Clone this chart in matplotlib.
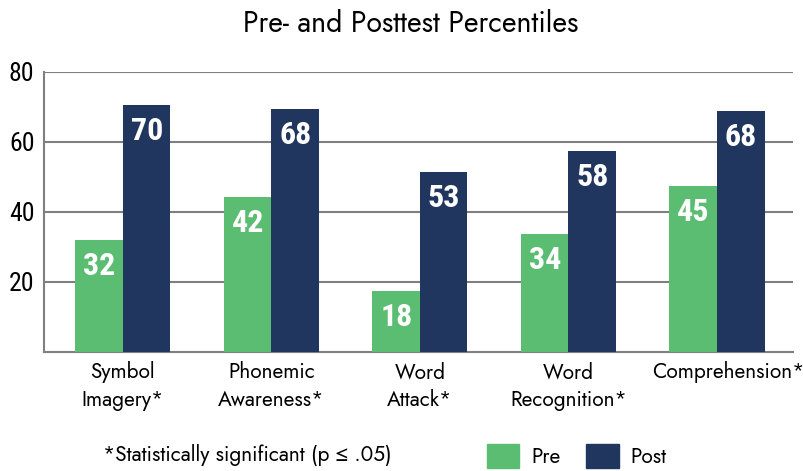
import matplotlib.pyplot as plt
import numpy as np
from matplotlib.patches import Patch
from matplotlib.transforms import ScaledTranslation

categories = ['Symbol\nImagery*', 'Phonemic\nAwareness*', 'Word\nAttack*',
              'Word\nRecognition*', 'Comprehension*']
pre_heights = [31.9, 44.3, 17.4, 33.6, 47.3]
post_heights = [70.5, 69.3, 51.3, 57.3, 68.8]
pre_labels = ['32', '42', '18', '34', '45']
post_labels = ['70', '68', '53', '58', '68']
y_ticks = [20, 40, 60, 80]

green = '#5bbd72'
navy = '#21365f'
grid_grey = '#7f7f7f'
body = ['Jost', 'Lato', 'DejaVu Sans']
narrow = ['Roboto Condensed', 'Barlow Condensed', 'DejaVu Sans']

fig = plt.figure(figsize=(8.04, 4.71), dpi=100)
ax = fig.add_axes([0.055, 0.2533, 0.931, 0.5945])

x = np.arange(len(categories))
w = 0.32
b1 = ax.bar(x - w / 2, pre_heights, w, color=green, zorder=3)
b2 = ax.bar(x + w / 2, post_heights, w, color=navy, zorder=3)

for bars, labels in ((b1, pre_labels), (b2, post_labels)):
    for bar, lab in zip(bars, labels):
        ax.annotate(lab, (bar.get_x() + bar.get_width() / 2, bar.get_height()),
                    xytext=(0, -8), textcoords='offset points',
                    ha='center', va='top', color='white', fontsize=23,
                    fontweight='bold', family=narrow, zorder=4)

ax.set_xlim(-0.53, 4.51)
ax.set_ylim(0, 80)
ax.set_yticks(y_ticks)
ax.set_yticklabels([str(v) for v in y_ticks], family=narrow, fontsize=18.5)
ax.set_xticks(x)
ax.set_xticklabels(categories, family=body, fontsize=15, linespacing=1.3)
ax.tick_params(length=0)
ax.tick_params(axis='y', pad=7)
ax.tick_params(axis='x', pad=7)

# the last label sits a bit right of its group in the original
last = ax.get_xticklabels()[-1]
last.set_transform(last.get_transform() + ScaledTranslation(0.11, 0, fig.dpi_scale_trans))

ax.grid(axis='y', color=grid_grey, linewidth=1.5, zorder=0)
for side in ('top', 'right'):
    ax.spines[side].set_visible(False)
for side in ('left', 'bottom'):
    ax.spines[side].set_color(grid_grey)
    ax.spines[side].set_linewidth(1.5)

fig.suptitle('Pre- and Posttest Percentiles', x=0.511, y=0.98,
             family=body, fontsize=20.5)

fig.text(0.128, 0.035, '*Statistically significant (p \u2264 .05)',
         family=body, fontsize=15, va='center')

handles = [Patch(color=green, label='Pre'), Patch(color=navy, label='Post')]
fig.legend(handles=handles, loc='center left', bbox_to_anchor=(0.593, 0.032),
           ncol=2, frameon=False, handlelength=1.55, handleheight=1.45,
           handletextpad=0.55, columnspacing=1.25, borderpad=0,
           prop={'family': body, 'size': 15})

fig.savefig('out.png', dpi=100)
